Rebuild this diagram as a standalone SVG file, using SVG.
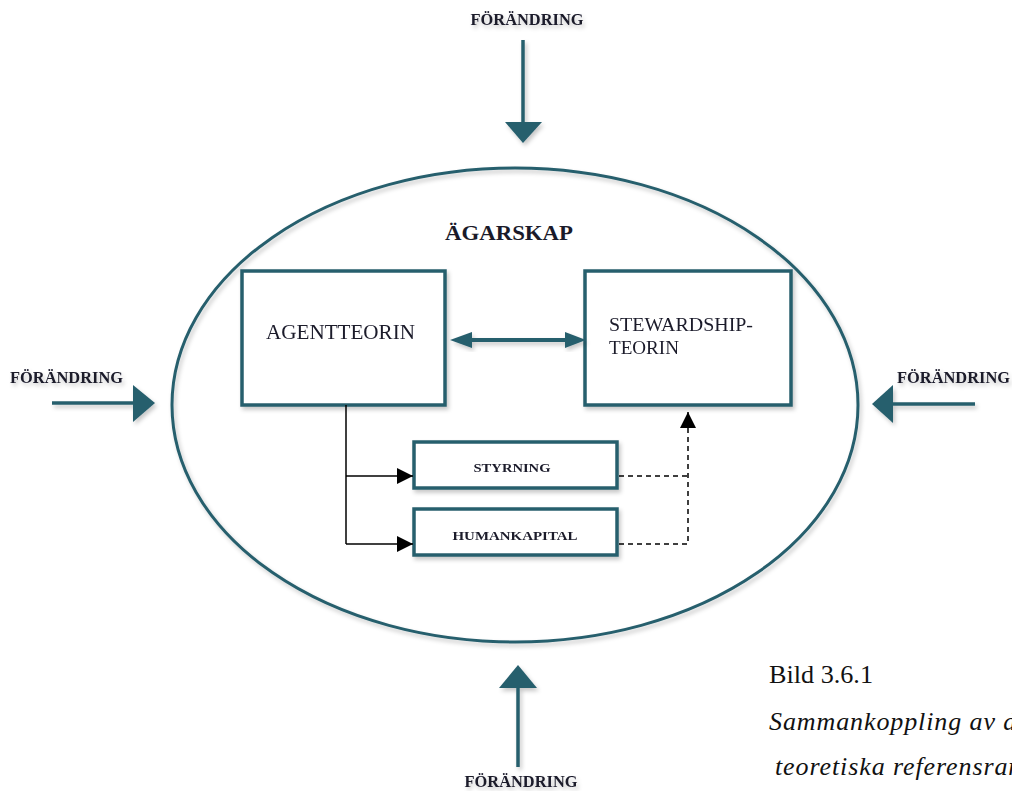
<svg xmlns="http://www.w3.org/2000/svg" width="1012" height="791" viewBox="0 0 1012 791">
<defs>
<filter id="sh" x="-10%" y="-10%" width="130%" height="130%">
<feDropShadow dx="2" dy="3" stdDeviation="2" flood-color="#000" flood-opacity="0.22"/>
</filter>
<marker id="blk" viewBox="0 0 10 10" refX="10" refY="5" markerWidth="16" markerHeight="16" markerUnits="userSpaceOnUse" orient="auto">
<path d="M0,0 L10,5 L0,10 Z" fill="#000"/>
</marker>
</defs>
<style>
.teal{fill:#285f6d}
.tline{stroke:#285f6d;stroke-width:3.5;fill:none}
.box{fill:#fff;stroke:#285f6d;stroke-width:3.5}
.lbl{font-family:"Liberation Serif","DejaVu Serif",serif;fill:#1a1a2a}
.chg{font-family:"Liberation Serif","DejaVu Serif",serif;font-weight:bold;font-size:16px;fill:#1a1a2a}
.cap{font-family:"Liberation Serif","DejaVu Serif",serif;font-size:26px;fill:#111}
.it{font-style:italic;letter-spacing:0.9px}
</style>
<rect width="1012" height="791" fill="#fff"/>

<g id="ellipse" filter="url(#sh)">
<ellipse cx="515" cy="405" rx="343" ry="237" fill="none" stroke="#285f6d" stroke-width="3"/>
</g>
<g id="agarskap">
<text class="lbl" x="509" y="240" text-anchor="middle" font-weight="bold" font-size="22" textLength="128" lengthAdjust="spacingAndGlyphs">ÄGARSKAP</text>
</g>

<g id="forandring-top" filter="url(#sh)">
<text class="chg" x="527" y="25" text-anchor="middle" textLength="113" lengthAdjust="spacingAndGlyphs">FÖRÄNDRING</text>
<line class="tline" x1="523" y1="40" x2="523" y2="124"/>
<polygon class="teal" points="505,122 542,122 523,143"/>
</g>
<g id="forandring-bottom" filter="url(#sh)">
<line class="tline" x1="518" y1="686" x2="518" y2="767"/>
<polygon class="teal" points="499,688 537,688 518,665"/>
<text class="chg" x="521" y="787" text-anchor="middle" textLength="113" lengthAdjust="spacingAndGlyphs">FÖRÄNDRING</text>
</g>
<g id="forandring-left" filter="url(#sh)">
<text class="chg" x="10" y="383" textLength="113" lengthAdjust="spacingAndGlyphs">FÖRÄNDRING</text>
<line class="tline" x1="52" y1="403" x2="135" y2="403"/>
<polygon class="teal" points="133,385 133,422 155,403"/>
</g>
<g id="forandring-right" filter="url(#sh)">
<text class="chg" x="897" y="383" textLength="113" lengthAdjust="spacingAndGlyphs">FÖRÄNDRING</text>
<line class="tline" x1="891" y1="404" x2="975" y2="404"/>
<polygon class="teal" points="893,385 893,423 872,404"/>
</g>

<g id="agentteorin" filter="url(#sh)">
<rect class="box" x="242" y="271" width="203" height="134"/>
<text class="lbl" x="266" y="339" font-size="21" textLength="149" lengthAdjust="spacingAndGlyphs">AGENTTEORIN</text>
</g>
<g id="stewardship" filter="url(#sh)">
<rect class="box" x="585" y="271" width="206" height="134"/>
<text class="lbl" x="609" y="331" font-size="19" textLength="144" lengthAdjust="spacingAndGlyphs">STEWARDSHIP-</text>
<text class="lbl" x="609" y="354" font-size="19" textLength="70" lengthAdjust="spacingAndGlyphs">TEORIN</text>
</g>
<g id="styrning" filter="url(#sh)">
<rect class="box" x="414" y="442" width="203" height="46"/>
<text class="lbl" x="512" y="472" text-anchor="middle" font-weight="bold" font-size="13" textLength="77" lengthAdjust="spacingAndGlyphs">STYRNING</text>
</g>
<g id="humankapital" filter="url(#sh)">
<rect class="box" x="414" y="509" width="203" height="46"/>
<text class="lbl" x="515" y="540" text-anchor="middle" font-weight="bold" font-size="13" textLength="125" lengthAdjust="spacingAndGlyphs">HUMANKAPITAL</text>
</g>

<g id="connectors">
<g filter="url(#sh)">
<line x1="470" y1="340" x2="566" y2="340" stroke="#285f6d" stroke-width="4"/>
<polygon class="teal" points="450,340 472,332 472,348"/>
<polygon class="teal" points="586,340 565,332 565,348"/>
</g>
<polyline points="346,405 346,544" fill="none" stroke="#000" stroke-width="1.5"/>
<line x1="346" y1="476" x2="413" y2="476" stroke="#000" stroke-width="1.5" marker-end="url(#blk)"/>
<line x1="346" y1="544" x2="413" y2="544" stroke="#000" stroke-width="1.5" marker-end="url(#blk)"/>
<polyline points="619,476 688,476" fill="none" stroke="#000" stroke-width="1.5" stroke-dasharray="5,4"/>
<polyline points="619,544 688,544 688,412" fill="none" stroke="#000" stroke-width="1.5" stroke-dasharray="5,4" marker-end="url(#blk)"/>
</g>

<g id="caption">
<text class="cap" x="769" y="683" textLength="104" lengthAdjust="spacingAndGlyphs">Bild 3.6.1</text>
<text class="cap it" x="769" y="730">Sammankoppling av de</text>
<text class="cap it" x="775" y="775">teoretiska referensramar</text>
</g>
</svg>
